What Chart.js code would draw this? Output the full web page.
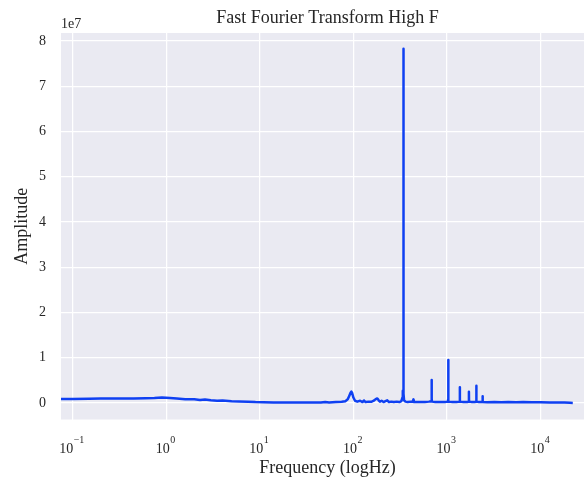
<!DOCTYPE html>
<html>
<head>
<meta charset="utf-8">
<title>FFT High F</title>
<script src="https://cdn.jsdelivr.net/npm/chart.js@4.4.0/dist/chart.umd.min.js"></script>
<style>
    html, body { margin: 0; padding: 0; background: #fff; overflow: hidden; }
    #fftChart { display: block; }
</style>
</head>
<body>
<canvas id="fftChart" width="594" height="480"></canvas>
<script>
/**
 * FFT spectrum (high F) - log frequency axis
 */

// Frequency bins (Hz)
const freqHz = [
    0.075, 0.1, 0.15, 0.2, 0.3, 0.45, 0.6, 0.75, 0.9, 1.1, 1.3, 1.6, 2.0, 2.3, 2.6, 3.0,
    3.5, 4.0, 5.0, 6.0, 7.5, 9.0, 11, 14, 18, 25, 35, 45, 50, 55, 65, 75,
    82, 87, 90, 93, 95, 97, 100, 104, 110, 118, 125, 130, 135, 145, 155, 165,
    172, 178, 182, 186, 192, 200, 210, 220, 230, 240, 255, 270, 290, 310, 325, 334,
    337, 339, 341, 343, 345, 348, 360, 380, 410, 430, 438, 446, 470, 520, 580, 640,
    680, 683, 686, 689, 692, 750, 850, 950, 1020, 1026, 1029, 1032, 1038, 1150, 1260, 1365,
    1369, 1372, 1375, 1380, 1500, 1640, 1708, 1712, 1715, 1718, 1722, 1850, 1980, 2050, 2055, 2058,
    2061, 2066, 2200, 2330, 2395, 2398, 2401, 2404, 2408, 2700, 3200, 3800, 4500, 5500, 6500, 8000,
    10000, 12500, 15000, 18000, 20500, 22050
];

// Amplitude for each bin
const amplitude = [
    0.09e7, 0.09e7, 0.095e7, 0.098e7, 0.10e7, 0.10e7, 0.105e7, 0.11e7, 0.12e7, 0.11e7, 0.10e7, 0.085e7, 0.08e7, 0.065e7, 0.075e7, 0.06e7,
    0.05e7, 0.055e7, 0.04e7, 0.035e7, 0.03e7, 0.022e7, 0.018e7, 0.012e7, 0.01e7, 0.008e7, 0.01e7, 0.012e7, 0.02e7, 0.012e7, 0.02e7, 0.025e7,
    0.04e7, 0.08e7, 0.15e7, 0.22e7, 0.25e7, 0.22e7, 0.12e7, 0.05e7, 0.03e7, 0.05e7, 0.02e7, 0.055e7, 0.02e7, 0.03e7, 0.025e7, 0.05e7,
    0.08e7, 0.10e7, 0.09e7, 0.06e7, 0.03e7, 0.05e7, 0.02e7, 0.04e7, 0.06e7, 0.02e7, 0.03e7, 0.02e7, 0.03e7, 0.02e7, 0.04e7, 0.12e7,
    0.27e7, 0.10e7, 0.20e7, 7.83e7, 0.20e7, 0.06e7, 0.03e7, 0.02e7, 0.03e7, 0.03e7, 0.08e7, 0.02e7, 0.02e7, 0.02e7, 0.02e7, 0.03e7,
    0.04e7, 0.08e7, 0.51e7, 0.08e7, 0.03e7, 0.02e7, 0.02e7, 0.02e7, 0.03e7, 0.07e7, 0.95e7, 0.07e7, 0.03e7, 0.02e7, 0.02e7, 0.03e7,
    0.06e7, 0.35e7, 0.06e7, 0.03e7, 0.02e7, 0.02e7, 0.03e7, 0.06e7, 0.25e7, 0.06e7, 0.03e7, 0.02e7, 0.02e7, 0.03e7, 0.06e7, 0.38e7,
    0.06e7, 0.03e7, 0.02e7, 0.02e7, 0.03e7, 0.05e7, 0.15e7, 0.05e7, 0.02e7, 0.015e7, 0.02e7, 0.015e7, 0.02e7, 0.015e7, 0.02e7, 0.015e7,
    0.015e7, 0.012e7, 0.01e7, 0.01e7, 0.006e7, 0.002e7
];

// Axis ticks
const xTickValues = [0.1, 1, 10, 100, 1000, 10000];
const yTickValues = [0, 1e7, 2e7, 3e7, 4e7, 5e7, 6e7, 7e7, 8e7];

const FONT = "'Liberation Serif', 'Times New Roman', serif";
const TEXT_COLOR = '#262626';
const LINE_COLOR = '#0f40f2';

Chart.defaults.font.family = FONT;
Chart.defaults.color = TEXT_COLOR;

// Grey plot face like seaborn darkgrid
const plotBackground = {
    id: 'plotBackground',
    beforeDraw(chart) {
        const { ctx, chartArea: a } = chart;
        ctx.save();
        ctx.fillStyle = '#eaeaf2';
        ctx.fillRect(a.left, a.top, a.right - a.left, a.bottom - a.top);
        ctx.restore();
    }
};

// Offset text "1e7" and 10^n tick labels (superscripts)
const axisText = {
    id: 'axisText',
    afterDraw(chart) {
        const { ctx, chartArea } = chart;
        const xScale = chart.scales.x;
        ctx.save();
        ctx.fillStyle = TEXT_COLOR;
        ctx.textBaseline = 'alphabetic';
        ctx.textAlign = 'left';

        ctx.font = '14px ' + FONT;
        ctx.fillText('1e7', chartArea.left, 28);

        xTickValues.forEach(v => {
            const exp = Math.round(Math.log10(v));
            const expText = exp < 0 ? '\u2212' + Math.abs(exp) : String(exp);
            ctx.font = '14px ' + FONT;
            const baseW = ctx.measureText('10').width;
            ctx.font = '10px ' + FONT;
            const expW = ctx.measureText(expText).width;
            const x0 = xScale.getPixelForValue(v) - (baseW + expW) / 2 - 1;
            ctx.font = '14px ' + FONT;
            ctx.fillText('10', x0, 453);
            ctx.font = '10px ' + FONT;
            ctx.fillText(expText, x0 + baseW + 0.5, 443);
        });
        ctx.restore();
    }
};

const points = freqHz.map((f, i) => ({ x: f, y: amplitude[i] }));

new Chart(document.getElementById('fftChart'), {
    type: 'line',
    data: {
        datasets: [{
            label: 'FFT',
            data: points,
            borderColor: LINE_COLOR,
            borderWidth: 2.5,
            borderJoinStyle: 'round',
            pointRadius: 0,
            tension: 0,
            fill: false
        }]
    },
    options: {
        responsive: false,
        animation: false,
        layout: { padding: 0 },
        plugins: {
            legend: { display: false },
            tooltip: { enabled: false },
            title: {
                display: true,
                text: 'Fast Fourier Transform High F',
                fullSize: false,
                color: TEXT_COLOR,
                font: { size: 18, weight: 'normal' },
                padding: { top: 7, bottom: 4.4 }
            }
        },
        scales: {
            x: {
                type: 'logarithmic',
                min: 0.0753,
                max: 37150,
                afterBuildTicks: scale => {
                    scale.ticks = xTickValues.map(v => ({ value: v }));
                },
                afterFit: scale => { scale.height = 60.5; },
                grid: { color: '#ffffff', lineWidth: 1.25, drawTicks: false },
                border: { display: false },
                ticks: { display: false },
                title: {
                    display: true,
                    text: 'Frequency (logHz)',
                    font: { size: 18 },
                    padding: { top: 0, bottom: 0.5 }
                }
            },
            y: {
                type: 'linear',
                min: -0.365e7,
                max: 8.177e7,
                afterBuildTicks: scale => {
                    scale.ticks = yTickValues.map(v => ({ value: v }));
                },
                afterFit: scale => { scale.width = 61; },
                grid: { color: '#ffffff', lineWidth: 1.25, drawTicks: false },
                border: { display: false },
                ticks: {
                    padding: 15,
                    font: { size: 14 },
                    callback: v => String(Math.round(v / 1e7))
                },
                title: {
                    display: true,
                    text: 'Amplitude',
                    font: { size: 18 },
                    padding: { top: 11, bottom: 0 }
                }
            }
        }
    },
    plugins: [plotBackground, axisText]
});
</script>
</body>
</html>
